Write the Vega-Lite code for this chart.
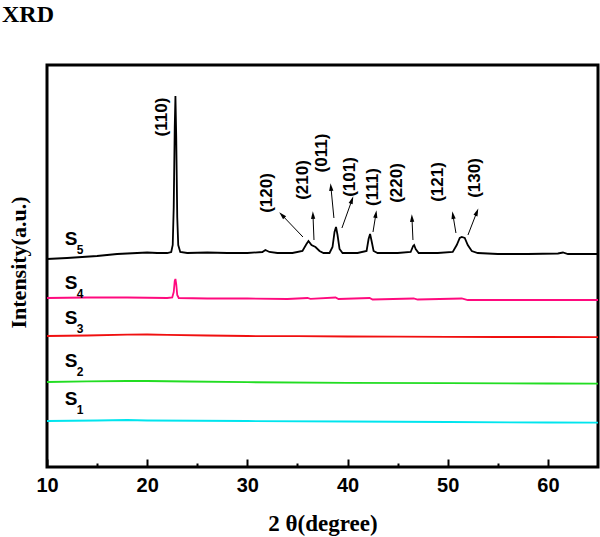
{
  "$schema": "https://vega.github.io/schema/vega-lite/v6.json",
  "autosize": "none",
  "width": 551,
  "height": 402,
  "padding": {"left": 47, "top": 65, "right": 2, "bottom": 70},
  "background": "white",
  "title": {"text": "XRD", "anchor": "start", "frame": "group", "dx": -45, "offset": 19, "baseline": "alphabetic", "font": "Liberation Serif", "fontSize": 24, "fontWeight": "bold", "color": "black"},
  "config": {"view": {"stroke": "black", "strokeWidth": 3}},
  "datasets": {
    "spectra": [
      {"sample": "S5", "t": 10, "i": 208}, {"sample": "S5", "t": 12, "i": 209}, {"sample": "S5", "t": 15, "i": 211}, {"sample": "S5", "t": 17, "i": 213}, {"sample": "S5", "t": 19, "i": 214}, {"sample": "S5", "t": 20, "i": 214.5}, {"sample": "S5", "t": 21, "i": 214}, {"sample": "S5", "t": 22, "i": 214}, {"sample": "S5", "t": 22.4, "i": 215}, {"sample": "S5", "t": 22.55, "i": 222}, {"sample": "S5", "t": 22.65, "i": 260}, {"sample": "S5", "t": 22.75, "i": 340}, {"sample": "S5", "t": 22.82, "i": 371}, {"sample": "S5", "t": 22.9, "i": 330}, {"sample": "S5", "t": 23.0, "i": 250}, {"sample": "S5", "t": 23.1, "i": 222}, {"sample": "S5", "t": 23.3, "i": 215}, {"sample": "S5", "t": 24, "i": 214}, {"sample": "S5", "t": 26, "i": 214.5}, {"sample": "S5", "t": 28, "i": 214}, {"sample": "S5", "t": 30, "i": 214}, {"sample": "S5", "t": 31.5, "i": 215}, {"sample": "S5", "t": 31.8, "i": 217}, {"sample": "S5", "t": 32.2, "i": 215}, {"sample": "S5", "t": 33, "i": 214}, {"sample": "S5", "t": 34.5, "i": 214}, {"sample": "S5", "t": 35.5, "i": 216}, {"sample": "S5", "t": 35.9, "i": 223}, {"sample": "S5", "t": 36.1, "i": 226}, {"sample": "S5", "t": 36.4, "i": 222}, {"sample": "S5", "t": 36.8, "i": 220}, {"sample": "S5", "t": 37.2, "i": 216}, {"sample": "S5", "t": 37.6, "i": 214}, {"sample": "S5", "t": 38.2, "i": 214}, {"sample": "S5", "t": 38.5, "i": 220}, {"sample": "S5", "t": 38.7, "i": 235}, {"sample": "S5", "t": 38.85, "i": 240}, {"sample": "S5", "t": 39.0, "i": 232}, {"sample": "S5", "t": 39.2, "i": 218}, {"sample": "S5", "t": 39.5, "i": 214}, {"sample": "S5", "t": 41, "i": 214}, {"sample": "S5", "t": 41.9, "i": 216}, {"sample": "S5", "t": 42.1, "i": 228}, {"sample": "S5", "t": 42.25, "i": 233}, {"sample": "S5", "t": 42.4, "i": 226}, {"sample": "S5", "t": 42.6, "i": 216}, {"sample": "S5", "t": 43, "i": 214}, {"sample": "S5", "t": 45, "i": 214}, {"sample": "S5", "t": 46.3, "i": 215}, {"sample": "S5", "t": 46.55, "i": 221}, {"sample": "S5", "t": 46.65, "i": 222}, {"sample": "S5", "t": 46.8, "i": 218}, {"sample": "S5", "t": 47.1, "i": 214}, {"sample": "S5", "t": 49, "i": 214}, {"sample": "S5", "t": 50.5, "i": 215}, {"sample": "S5", "t": 50.9, "i": 222}, {"sample": "S5", "t": 51.2, "i": 229}, {"sample": "S5", "t": 51.4, "i": 230}, {"sample": "S5", "t": 51.7, "i": 229}, {"sample": "S5", "t": 52, "i": 222}, {"sample": "S5", "t": 52.4, "i": 216}, {"sample": "S5", "t": 53, "i": 214}, {"sample": "S5", "t": 55, "i": 213}, {"sample": "S5", "t": 58, "i": 213}, {"sample": "S5", "t": 61, "i": 213.5}, {"sample": "S5", "t": 61.5, "i": 214.5}, {"sample": "S5", "t": 62, "i": 213}, {"sample": "S5", "t": 65, "i": 213},
      {"sample": "S4", "t": 10, "i": 169}, {"sample": "S4", "t": 14, "i": 169.5}, {"sample": "S4", "t": 18, "i": 169.5}, {"sample": "S4", "t": 22, "i": 169}, {"sample": "S4", "t": 22.5, "i": 169.5}, {"sample": "S4", "t": 22.65, "i": 175}, {"sample": "S4", "t": 22.75, "i": 186}, {"sample": "S4", "t": 22.82, "i": 188}, {"sample": "S4", "t": 22.9, "i": 183}, {"sample": "S4", "t": 23.0, "i": 172}, {"sample": "S4", "t": 23.15, "i": 169}, {"sample": "S4", "t": 26, "i": 168.5}, {"sample": "S4", "t": 30, "i": 168.5}, {"sample": "S4", "t": 34, "i": 168}, {"sample": "S4", "t": 36, "i": 169}, {"sample": "S4", "t": 36.3, "i": 168.2}, {"sample": "S4", "t": 38.8, "i": 169.5}, {"sample": "S4", "t": 39.1, "i": 168}, {"sample": "S4", "t": 42.2, "i": 169}, {"sample": "S4", "t": 42.5, "i": 167.5}, {"sample": "S4", "t": 46.6, "i": 168.5}, {"sample": "S4", "t": 47, "i": 167.5}, {"sample": "S4", "t": 51.4, "i": 168.5}, {"sample": "S4", "t": 52, "i": 167}, {"sample": "S4", "t": 56, "i": 167}, {"sample": "S4", "t": 60, "i": 167}, {"sample": "S4", "t": 65, "i": 167},
      {"sample": "S3", "t": 10, "i": 131}, {"sample": "S3", "t": 14, "i": 131.5}, {"sample": "S3", "t": 18, "i": 132.3}, {"sample": "S3", "t": 20, "i": 132.5}, {"sample": "S3", "t": 22, "i": 132.2}, {"sample": "S3", "t": 26, "i": 131.5}, {"sample": "S3", "t": 30, "i": 131}, {"sample": "S3", "t": 35, "i": 130.8}, {"sample": "S3", "t": 40, "i": 130.5}, {"sample": "S3", "t": 45, "i": 130.3}, {"sample": "S3", "t": 50, "i": 130.2}, {"sample": "S3", "t": 55, "i": 130}, {"sample": "S3", "t": 60, "i": 130}, {"sample": "S3", "t": 65, "i": 129.8},
      {"sample": "S2", "t": 10, "i": 85}, {"sample": "S2", "t": 14, "i": 85.6}, {"sample": "S2", "t": 18, "i": 86}, {"sample": "S2", "t": 20, "i": 86}, {"sample": "S2", "t": 24, "i": 85.5}, {"sample": "S2", "t": 30, "i": 84.8}, {"sample": "S2", "t": 40, "i": 84.2}, {"sample": "S2", "t": 50, "i": 83.8}, {"sample": "S2", "t": 60, "i": 83.5}, {"sample": "S2", "t": 65, "i": 83.3},
      {"sample": "S1", "t": 10, "i": 46}, {"sample": "S1", "t": 15, "i": 46.5}, {"sample": "S1", "t": 18, "i": 47}, {"sample": "S1", "t": 20, "i": 46.5}, {"sample": "S1", "t": 30, "i": 46}, {"sample": "S1", "t": 40, "i": 45.5}, {"sample": "S1", "t": 50, "i": 45}, {"sample": "S1", "t": 60, "i": 44.5}, {"sample": "S1", "t": 65, "i": 44.3}
    ],
    "arrows": [
      {"hkl": "(120)", "x": 35.55, "y": 230, "x2": 33.45, "y2": 252},
      {"hkl": "(210)", "x": 36.65, "y": 227, "x2": 36.55, "y2": 252},
      {"hkl": "(011)", "x": 38.64, "y": 249, "x2": 38.34, "y2": 280},
      {"hkl": "(101)", "x": 39.44, "y": 239, "x2": 40.44, "y2": 267},
      {"hkl": "(111)", "x": 42.54, "y": 235, "x2": 42.83, "y2": 253},
      {"hkl": "(220)", "x": 46.53, "y": 227, "x2": 46.43, "y2": 249},
      {"hkl": "(121)", "x": 50.82, "y": 234, "x2": 50.52, "y2": 252},
      {"hkl": "(130)", "x": 52.02, "y": 232, "x2": 52.91, "y2": 255}
    ],
    "peaks": [
      {"hkl": "(110)", "x": 21.48, "y": 350},
      {"hkl": "(120)", "x": 31.96, "y": 274},
      {"hkl": "(210)", "x": 35.55, "y": 287},
      {"hkl": "(011)", "x": 37.45, "y": 314},
      {"hkl": "(101)", "x": 40.24, "y": 290},
      {"hkl": "(111)", "x": 42.54, "y": 280},
      {"hkl": "(220)", "x": 44.93, "y": 284},
      {"hkl": "(121)", "x": 49.02, "y": 285},
      {"hkl": "(130)", "x": 52.71, "y": 289}
    ],
    "samples": [
      {"name": "S", "sub": "5", "x": 12.4, "y": 228},
      {"name": "S", "sub": "4", "x": 12.4, "y": 184},
      {"name": "S", "sub": "3", "x": 12.4, "y": 149},
      {"name": "S", "sub": "2", "x": 12.4, "y": 106},
      {"name": "S", "sub": "1", "x": 12.4, "y": 68}
    ]
  },
  "resolve": {"axis": {"x": "independent"}},
  "layer": [
    {
      "data": {"name": "spectra"},
      "mark": {"type": "line", "strokeWidth": 1.8},
      "encoding": {
        "x": {"field": "t", "type": "quantitative", "scale": {"domain": [10, 65], "nice": false, "zero": false},
          "axis": {"values": [10, 20, 30, 40, 50, 60], "title": "2 θ(degree)", "grid": false, "domain": false, "orient": "bottom",
            "tickSize": -8, "tickWidth": 2, "tickColor": "black", "labelFlush": false,
            "labelFont": "Liberation Sans", "labelFontSize": 20, "labelFontWeight": "bold", "labelColor": "black", "labelPadding": 16,
            "titleFont": "Liberation Serif", "titleFontSize": 23, "titleFontWeight": "bold", "titleColor": "black", "titleY": 63, "titleBaseline": "alphabetic"}},
        "y": {"field": "i", "type": "quantitative", "scale": {"domain": [0, 402], "nice": false, "zero": false},
          "axis": {"title": "Intensity(a.u.)", "ticks": false, "labels": false, "domain": false, "grid": false,
            "titleFont": "Liberation Serif", "titleFontSize": 22, "titleFontWeight": "bold", "titleColor": "black",
            "titleX": -29, "titleY": 197, "titleAngle": 270, "titleAlign": "center", "titleBaseline": "middle"}},
        "color": {"field": "sample", "type": "nominal", "legend": null,
          "scale": {"domain": ["S1", "S2", "S3", "S4", "S5"], "range": ["#00E5EE", "#22DD22", "#F01010", "#FF0A7E", "#000000"]}}
      }
    },
    {
      "data": {"name": "arrows"},
      "mark": {"type": "rule", "color": "black", "strokeWidth": 1},
      "encoding": {
        "x": {"field": "x", "type": "quantitative", "scale": {"domain": [10, 65], "nice": false, "zero": false},
          "axis": {"values": [15, 25, 35, 45, 55], "labels": false, "title": null, "domain": false, "grid": false, "orient": "bottom", "tickSize": -4, "tickWidth": 2, "tickColor": "black"}},
        "y": {"field": "y", "type": "quantitative"},
        "x2": {"field": "x2"},
        "y2": {"field": "y2"}
      }
    },
    {
      "data": {"name": "arrows"},
      "transform": [{"calculate": "atan2((datum.x2 - datum.x) * 10.02, datum.y2 - datum.y) * 180 / PI", "as": "ang"}],
      "mark": {"type": "point", "shape": "M0,-1L0.55,1L-0.55,1Z", "filled": true, "color": "black", "opacity": 1, "size": 60},
      "encoding": {
        "x": {"field": "x2", "type": "quantitative", "axis": null},
        "y": {"field": "y2", "type": "quantitative"},
        "angle": {"field": "ang", "type": "quantitative", "scale": null}
      }
    },
    {
      "data": {"name": "peaks"},
      "mark": {"type": "text", "angle": 270, "align": "center", "baseline": "middle", "font": "Liberation Sans", "fontSize": 17, "fontWeight": "bold", "color": "black"},
      "encoding": {
        "x": {"field": "x", "type": "quantitative", "axis": null},
        "y": {"field": "y", "type": "quantitative"},
        "text": {"field": "hkl"}
      }
    },
    {
      "data": {"name": "samples"},
      "mark": {"type": "text", "align": "center", "baseline": "middle", "font": "Liberation Sans", "fontSize": 19, "fontWeight": "bold", "color": "black"},
      "encoding": {
        "x": {"field": "x", "type": "quantitative", "axis": null},
        "y": {"field": "y", "type": "quantitative"},
        "text": {"field": "name"}
      }
    },
    {
      "data": {"name": "samples"},
      "mark": {"type": "text", "align": "center", "baseline": "middle", "font": "Liberation Sans", "fontSize": 12, "fontWeight": "bold", "color": "black", "dx": 9, "dy": 11},
      "encoding": {
        "x": {"field": "x", "type": "quantitative", "axis": null},
        "y": {"field": "y", "type": "quantitative"},
        "text": {"field": "sub"}
      }
    }
  ]
}
